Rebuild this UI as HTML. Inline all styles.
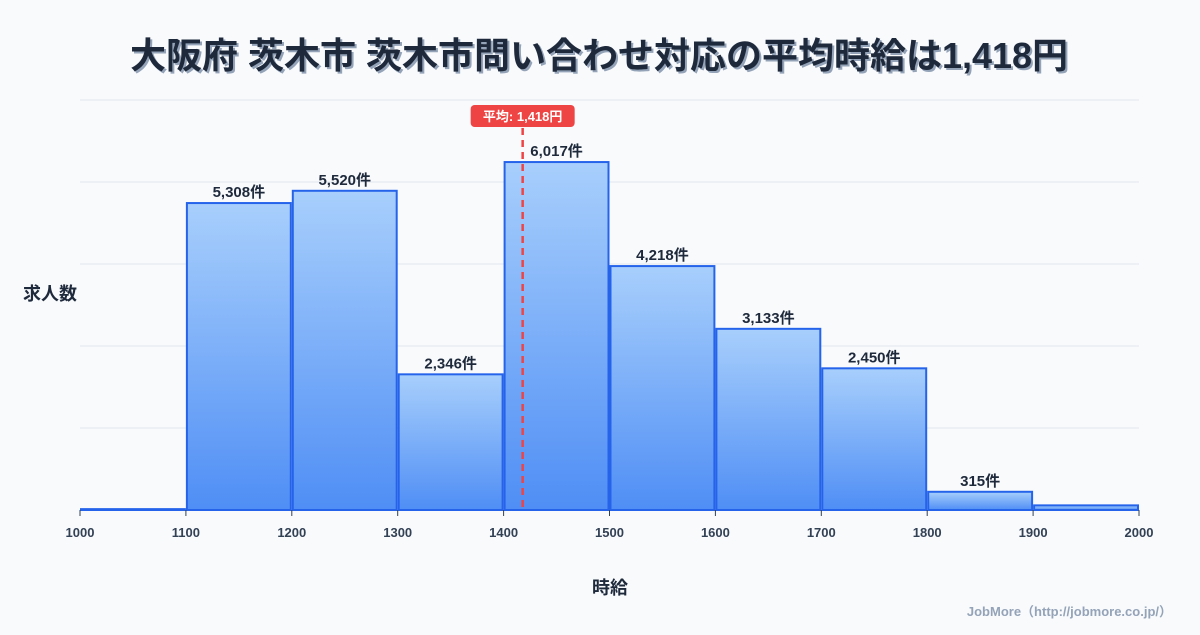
<!DOCTYPE html>
<html><head><meta charset="utf-8"><style>
body{margin:0;background:#f8fafc;width:1200px;height:630px;overflow:hidden;font-family:"Liberation Sans","Noto Sans CJK JP",sans-serif;}
svg text{font-family:"Liberation Sans","Noto Sans CJK JP",sans-serif;}
</style></head><body>
<svg id="c" width="1200" height="630">
<defs><linearGradient id="g" x1="0" y1="0" x2="0" y2="1"><stop offset="0" stop-color="#a8cffc"/><stop offset="1" stop-color="#4f8ef5"/></linearGradient></defs>
<text x="601" y="70" text-anchor="middle" font-size="36" font-weight="bold" fill="#94a3b8">大阪府 茨木市 茨木市問い合わせ対応の平均時給は1,418円</text>
<text x="599" y="68" text-anchor="middle" font-size="36" font-weight="bold" fill="#1e293b">大阪府 茨木市 茨木市問い合わせ対応の平均時給は1,418円</text>
<text x="50" y="300" text-anchor="middle" font-size="18" font-weight="bold" fill="#1e293b">求人数</text>
<text x="610" y="594" text-anchor="middle" font-size="18" font-weight="bold" fill="#1e293b">時給</text>
<text x="1172" y="616" text-anchor="end" font-size="13" font-weight="bold" fill="#94a3b8">JobMore（http://jobmore.co.jp/）</text>
</svg>
<script>
const bins=[1000,1100,1200,1300,1400,1500,1600,1700,1800,1900];
const counts=[15,5308,5520,2346,6017,4218,3133,2450,315,80];
const labels=["","5,308件","5,520件","2,346件","6,017件","4,218件","3,133件","2,450件","315件",""];
const ticks=[1000,1100,1200,1300,1400,1500,1600,1700,1800,1900,2000];
const avg=1418;
const yMax=7090, gridN=5;
const svg=document.getElementById('c');
const NS='http://www.w3.org/2000/svg';
const X0=80,X1=1139,Y0=510,Y1=100;
const xs=v=>X0+(v-1000)/1000*(X1-X0);
const ys=v=>Y0-v/yMax*(Y0-Y1);
function mk(t,a){const e=document.createElementNS(NS,t);for(const k in a)e.setAttribute(k,a[k]);svg.appendChild(e);return e;}
for(let i=0;i<=gridN;i++){const y=Y0-(Y0-Y1)*i/gridN;
const l=mk('line',{x1:X0,x2:X1,y1:y,y2:y,stroke:'#e2e8f0','stroke-width':1});

}
bins.forEach((b,i)=>{const x=xs(b)+1,w=xs(b+100)-xs(b)-2,y=ys(counts[i]);
const r=mk('rect',{x:x,y:y,width:w,height:Y0-y,fill:'url(#g)',stroke:'#2563eb','stroke-width':2});


if(labels[i]){const t=mk('text',{x:x+w/2,y:y-6,'text-anchor':'middle','font-size':15,'font-weight':'bold',fill:'#1e293b'});t.textContent=labels[i];

}});
ticks.forEach(v=>{const x=xs(v);
const l=mk('line',{x1:x,x2:x,y1:Y0,y2:Y0+6,stroke:'#334155','stroke-width':1});


const t=mk('text',{x:x,y:537,'text-anchor':'middle','font-size':13,'font-weight':'bold',fill:'#334155'});t.textContent=v;

});
const ax=xs(avg);
const al=mk('line',{x1:ax,x2:ax,y1:128,y2:Y0,stroke:'#ef4444','stroke-width':2.5,'stroke-dasharray':'7,5'});


const bg=mk('rect',{x:ax-52,y:105,width:104,height:22,rx:4,fill:'#ef4444'});


const at=mk('text',{x:ax,y:121,'text-anchor':'middle','font-size':13,'font-weight':'bold',fill:'#fff'});at.textContent='平均: 1,418円';


</script>
</body></html>
